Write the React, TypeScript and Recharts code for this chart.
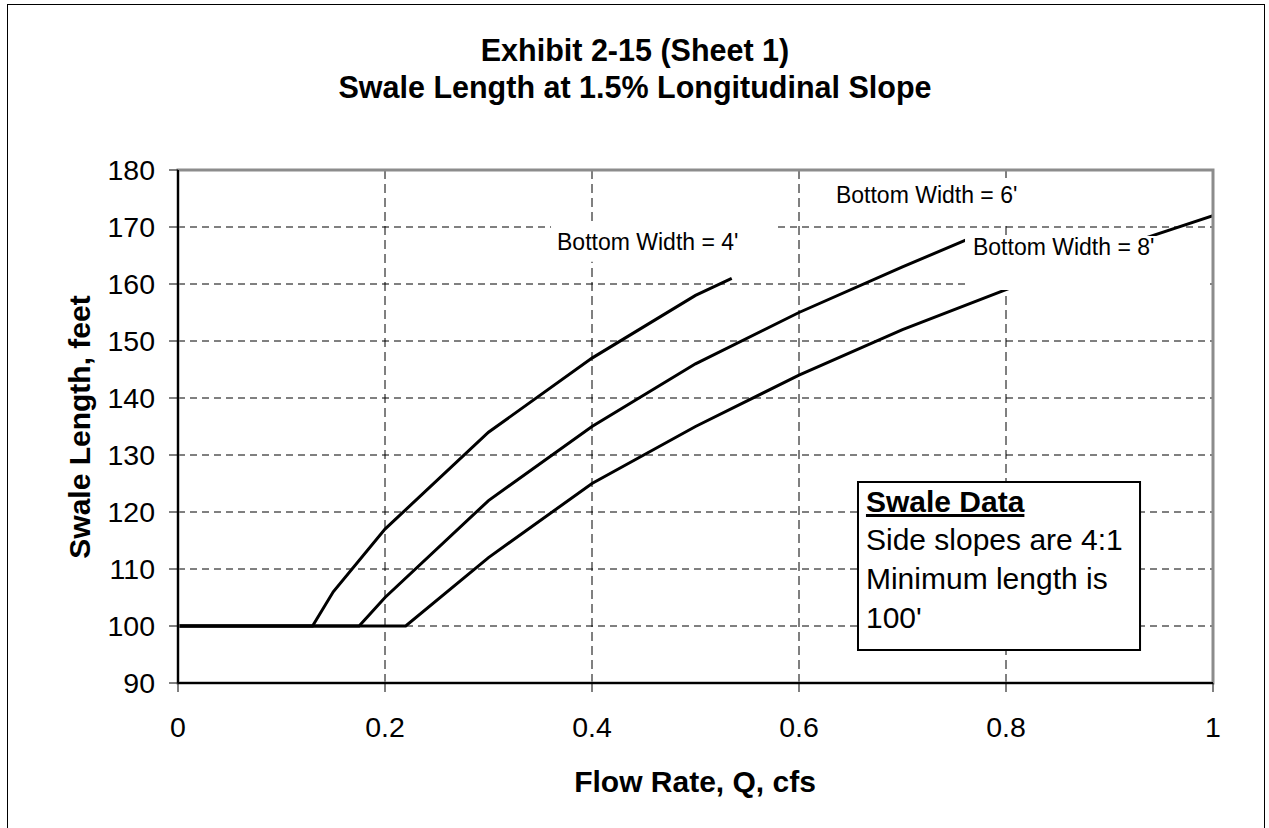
import React from 'react';
import { LineChart, Line, XAxis, YAxis, CartesianGrid, ReferenceArea } from 'recharts';

// ---- data ----
const xTicks = [0, 0.2, 0.4, 0.6, 0.8, 1];
const yTicks = [90, 100, 110, 120, 130, 140, 150, 160, 170, 180];

const width4Q = [0, 0.13, 0.15, 0.2, 0.3, 0.4, 0.5, 0.535];
const width4L = [100, 100, 106, 117, 134, 147, 158, 161];
const width6Q = [0, 0.175, 0.2, 0.3, 0.4, 0.5, 0.6, 0.7, 0.765];
const width6L = [100, 100, 105, 122, 135, 146, 155, 163, 168];
const width8Q = [0, 0.22, 0.3, 0.4, 0.5, 0.6, 0.7, 0.8, 0.9, 1.0];
const width8L = [100, 100, 112, 125, 135, 144, 152, 159, 166, 172];

const seriesNames = ["Bottom Width = 4'", "Bottom Width = 6'", "Bottom Width = 8'"];
const titleLines = ['Exhibit 2-15 (Sheet 1)', 'Swale Length at 1.5% Longitudinal Slope'];
const xTitle = 'Flow Rate, Q, cfs';
const yTitle = 'Swale Length, feet';
const noteTitle = 'Swale Data';
const noteLines = ['Side slopes are 4:1', 'Minimum length is', "100'"];

const toRows = (q: number[], l: number[]) => q.map((x, i) => ({ x, y: l[i] }));
const series = [toRows(width4Q, width4L), toRows(width6Q, width6L), toRows(width8Q, width8L)];

// annotation boxes in data units (box extents + text anchor)
const labelBoxes = [
  { x1: 0.3604, x2: 0.5787, y1: 163.9, y2: 170.9, tx: 0.3662, ty: 165.96 },
  { x1: 0.630, x2: 0.8097, y1: 170.2, y2: 178.6, tx: 0.6357, ty: 174.26 },
  { x1: 0.7604, x2: 0.9942, y1: 158.95, y2: 168.4, tx: 0.7681, ty: 165.09 },
];
const noteBox = { x1: 0.657, x2: 0.9295, y1: 95.8, y2: 125.26, tx: 0.6647, ty: [120.0, 113.33, 106.49, 99.65] };

const FONT = "'Liberation Sans', Arial, Helvetica, sans-serif";

const mapPos = (vb: any, b: any, tx: number, ty: number) => {
  const px = vb.x + ((tx - b.x1) / (b.x2 - b.x1)) * vb.width;
  const py = vb.y + ((b.y2 - ty) / (b.y2 - b.y1)) * vb.height;
  return [px, py];
};

const makeLabel = (b: any, text: string) => (props: any) => {
  const vb = props && props.viewBox;
  if (!vb) return null;
  const [px, py] = mapPos(vb, b, b.tx, b.ty);
  return (
    <text x={px} y={py} fontFamily={FONT} fontSize={23} fill="#000" textAnchor="start">
      {text}
    </text>
  );
};

const noteLabel = (props: any) => {
  const vb = props && props.viewBox;
  if (!vb) return null;
  const items = [noteTitle, ...noteLines];
  return (
    <g>
      {items.map((t, i) => {
        const [px, py] = mapPos(vb, noteBox, noteBox.tx, noteBox.ty[i]);
        return (
          <text
            key={i}
            x={px}
            y={py}
            fontFamily={FONT}
            fontSize={30}
            fontWeight={i === 0 ? 'bold' : 'normal'}
            textDecoration={i === 0 ? 'underline' : undefined}
            fill="#000"
          >
            {t}
          </text>
        );
      })}
    </g>
  );
};

const fmtX = (v: number) => String(v);

export default function App() {
  return (
    <div style={{ position: 'fixed', left: 0, top: 0, width: 1269, height: 828, overflow: 'hidden', background: '#fff' }}>
      <div style={{ position: 'absolute', left: 7, top: 4, width: 1256, height: 900, border: '1px solid #000' }} />
      <div style={{ position: 'absolute', left: 0, top: 0 }}>
        <LineChart width={1269} height={828} margin={{ top: 170, right: 56, bottom: 85, left: 78 }}>
          <CartesianGrid vertical={false} stroke="#000" strokeDasharray="7 5" strokeWidth={1} />
          <CartesianGrid horizontal={false} stroke="#000" strokeDasharray="9 5" strokeWidth={1} />
          <XAxis
            type="number"
            dataKey="x"
            domain={[0, 1]}
            ticks={xTicks}
            tickFormatter={fmtX}
            allowDataOverflow
            height={60}
            tickSize={9}
            tickMargin={25}
            axisLine={{ stroke: '#000', strokeWidth: 2 }}
            tickLine={{ stroke: '#000', strokeWidth: 1 }}
            tick={{ fill: '#000', fontSize: 28.5, fontFamily: FONT }}
            interval={0}
          />
          <YAxis
            type="number"
            dataKey="y"
            domain={[90, 180]}
            ticks={yTicks}
            allowDataOverflow
            width={100}
            tickSize={9}
            tickMargin={14}
            axisLine={{ stroke: '#000', strokeWidth: 2 }}
            tickLine={{ stroke: '#000', strokeWidth: 1 }}
            tick={{ fill: '#000', fontSize: 28.5, fontFamily: FONT }}
            interval={0}
          />
          {series.map((d, i) => (
            <Line
              key={i}
              data={d}
              dataKey="y"
              name={seriesNames[i]}
              type="linear"
              stroke="#000"
              strokeWidth={3}
              dot={false}
              activeDot={false}
              isAnimationActive={false}
            />
          ))}
          {labelBoxes.map((b, i) => (
            <ReferenceArea
              key={'lb' + i}
              x1={b.x1}
              x2={b.x2}
              y1={b.y1}
              y2={b.y2}
              fill="#fff"
              fillOpacity={1}
              stroke="none"
              ifOverflow="visible"
              zIndex={450}
              label={makeLabel(b, seriesNames[i])}
            />
          ))}
          <ReferenceArea
            x1={noteBox.x1}
            x2={noteBox.x2}
            y1={noteBox.y1}
            y2={noteBox.y2}
            fill="#fff"
            fillOpacity={1}
            stroke="#000"
            strokeWidth={2}
            ifOverflow="visible"
            zIndex={450}
            label={noteLabel}
          />
          <ReferenceArea
            x1={0}
            x2={1}
            y1={90}
            y2={180}
            fill="none"
            stroke="#8c8c8c"
            strokeWidth={3}
            ifOverflow="visible"
            zIndex={460}
          />
        </LineChart>
      </div>
      <svg width={1269} height={828} style={{ position: 'absolute', left: 0, top: 0, pointerEvents: 'none' }}>
        <text x={635} y={61} textAnchor="middle" fontFamily={FONT} fontSize={30.5} fontWeight="bold" fill="#000">
          {titleLines[0]}
        </text>
        <text x={635} y={98} textAnchor="middle" fontFamily={FONT} fontSize={30.5} fontWeight="bold" fill="#000">
          {titleLines[1]}
        </text>
        <text x={695} y={792} textAnchor="middle" fontFamily={FONT} fontSize={30} fontWeight="bold" fill="#000">
          {xTitle}
        </text>
        <text
          x={90}
          y={427}
          textAnchor="middle"
          fontFamily={FONT}
          fontSize={30}
          fontWeight="bold"
          fill="#000"
          transform="rotate(-90 90 427)"
        >
          {yTitle}
        </text>
      </svg>
    </div>
  );
}
